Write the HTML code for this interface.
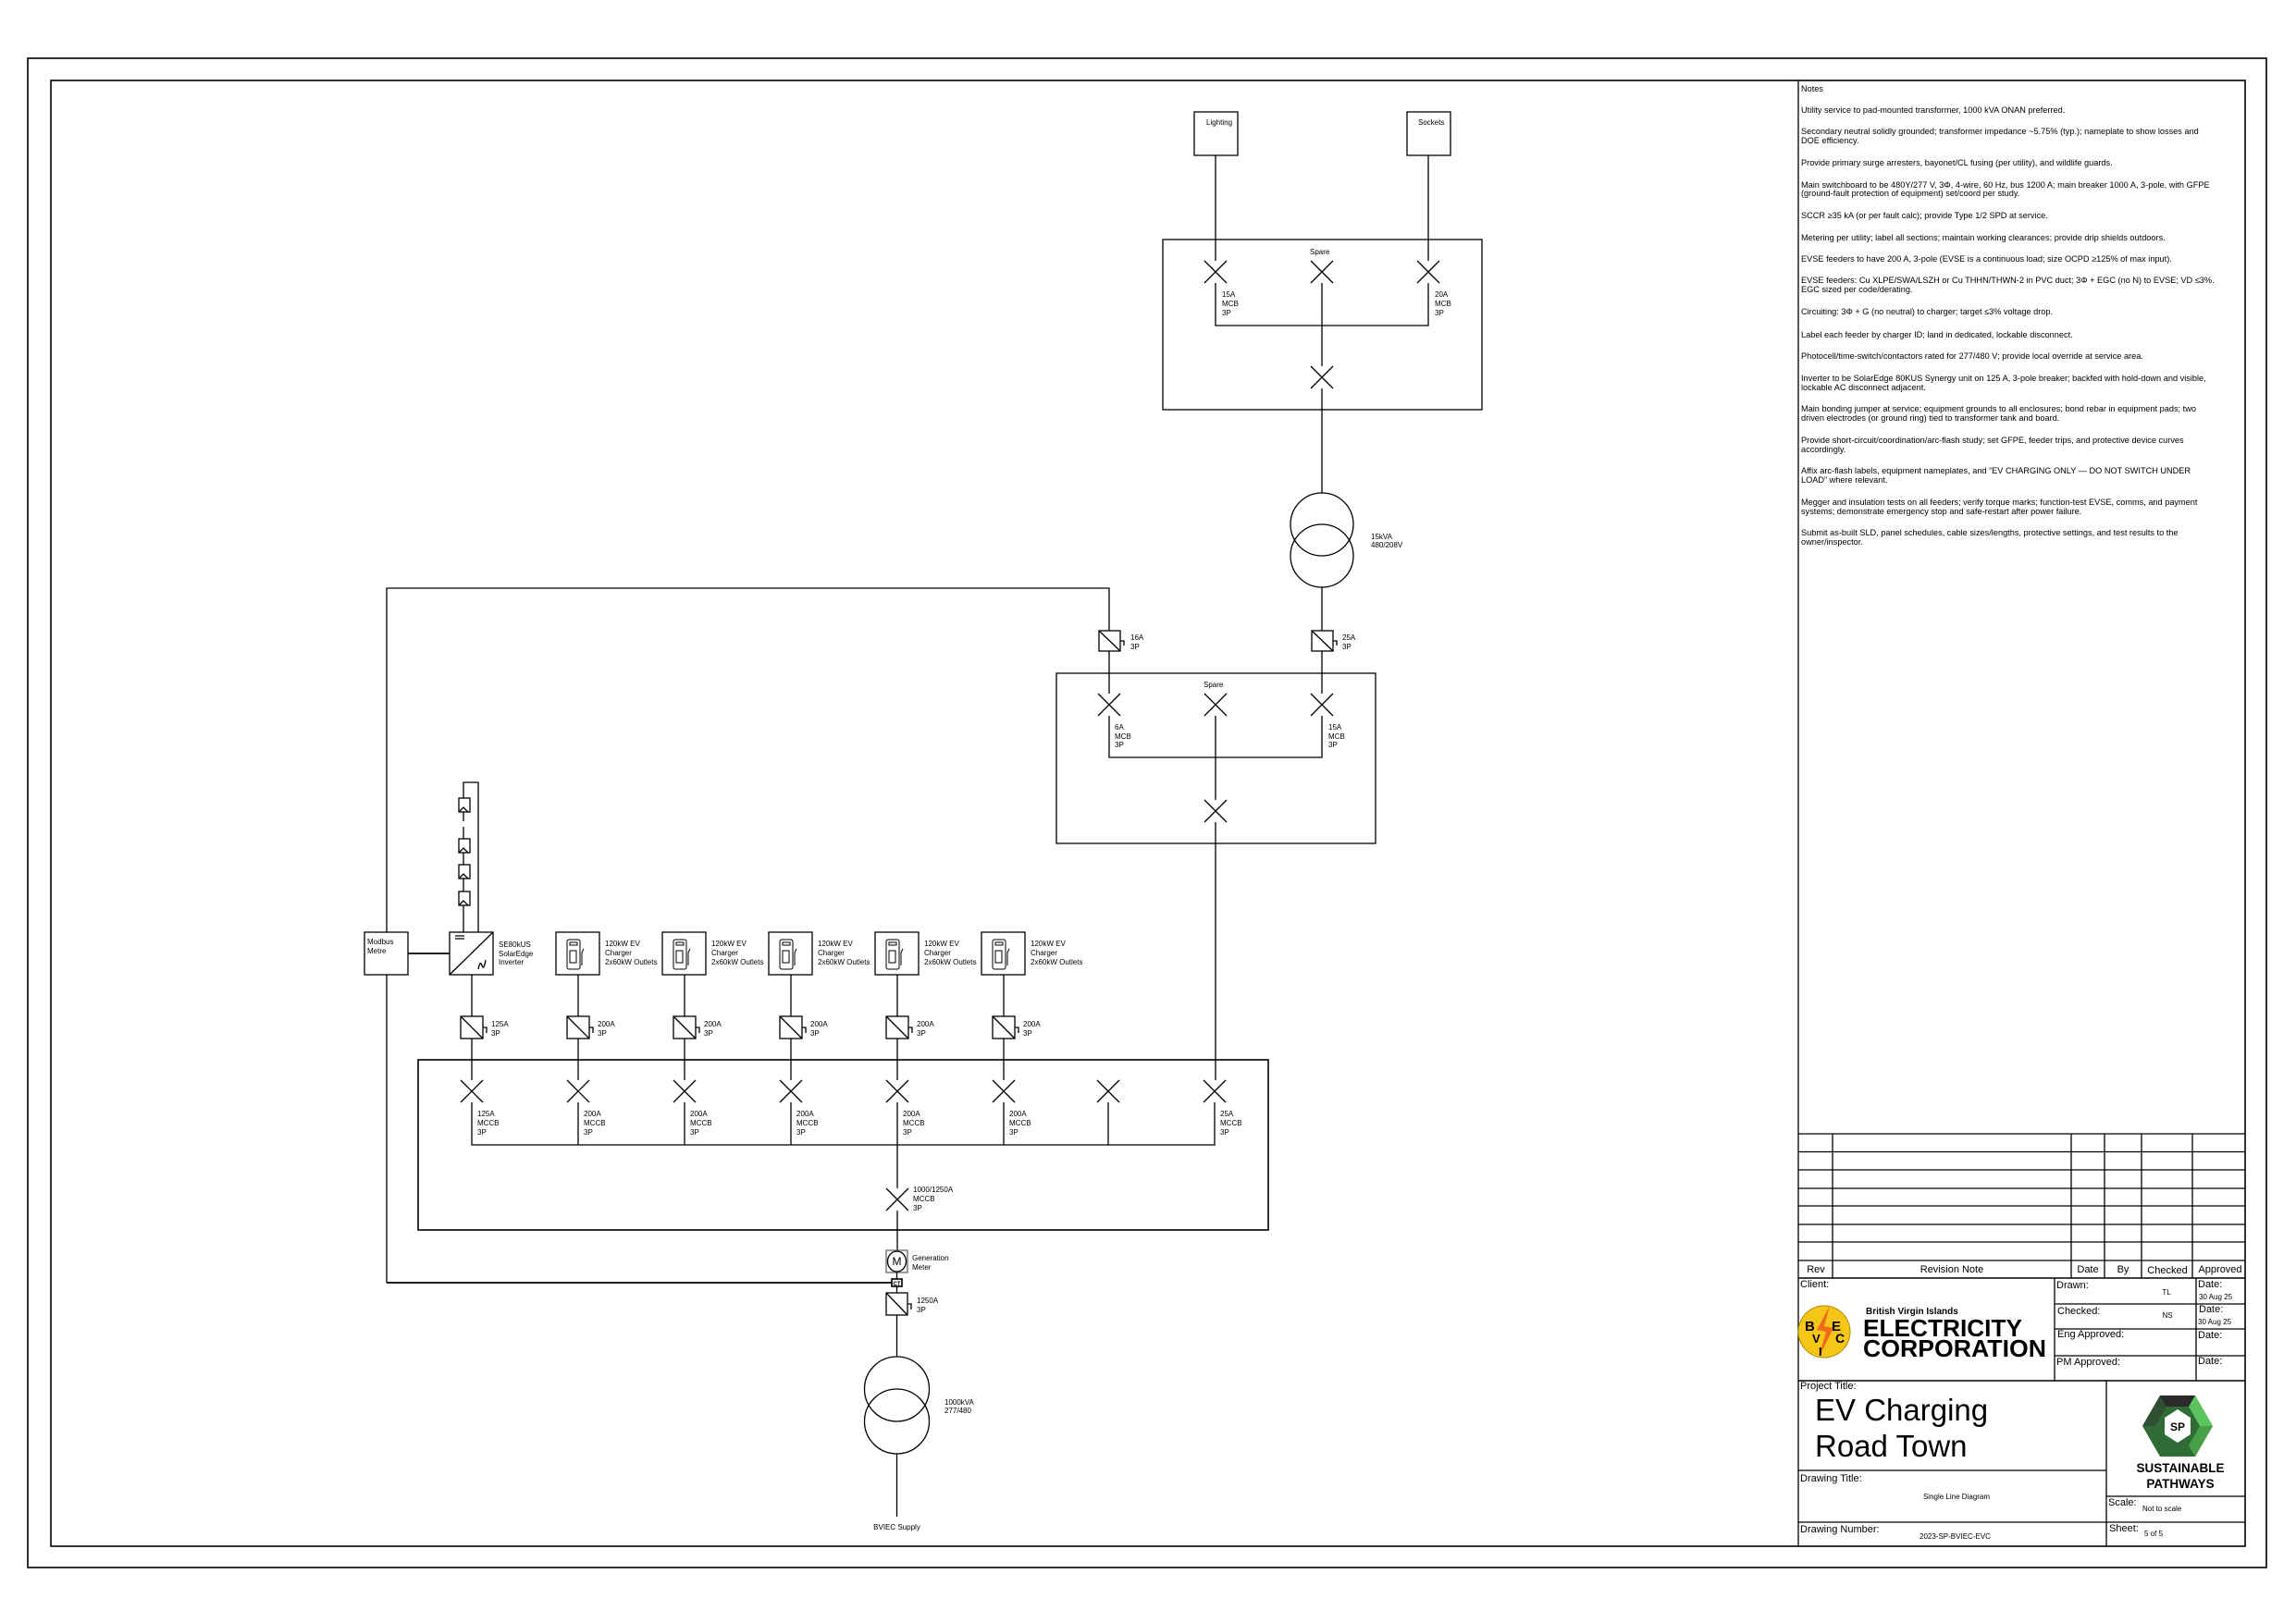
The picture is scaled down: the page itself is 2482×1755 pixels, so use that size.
<!DOCTYPE html>
<html><head><meta charset="utf-8"><style>
html,body{margin:0;padding:0;background:#fff;width:2482px;height:1755px;overflow:hidden}
svg{display:block}
text{font-family:"Liberation Sans",Arial,sans-serif;fill:#000}
.s{font-size:8px}
.n{font-size:9.2px}
.t{font-size:11px}
</style></head><body>
<svg width="2482" height="1755" viewBox="0 0 2482 1755" xmlns="http://www.w3.org/2000/svg">
<g fill="none" stroke="#000" stroke-width="1.3">
<rect x="30" y="63" width="2420" height="1632" stroke-width="1.6"/>
<rect x="55" y="87" width="2372" height="1585" stroke-width="1.6"/>
<line x1="1944" y1="87" x2="1944" y2="1672"/>

<line x1="1944" y1="1226" x2="2427" y2="1226"/>
<line x1="1944" y1="1245.5" x2="2427" y2="1245.5"/>
<line x1="1944" y1="1265" x2="2427" y2="1265"/>
<line x1="1944" y1="1285" x2="2427" y2="1285"/>
<line x1="1944" y1="1304" x2="2427" y2="1304"/>
<line x1="1944" y1="1324" x2="2427" y2="1324"/>
<line x1="1944" y1="1343" x2="2427" y2="1343"/>
<line x1="1944" y1="1363" x2="2427" y2="1363"/>
<line x1="1944" y1="1382" x2="2427" y2="1382" stroke-width="1.6"/>
<line x1="1981" y1="1226" x2="1981" y2="1382"/>
<line x1="2239" y1="1226" x2="2239" y2="1382"/>
<line x1="2275" y1="1226" x2="2275" y2="1382"/>
<line x1="2315" y1="1226" x2="2315" y2="1382"/>
<line x1="2370" y1="1226" x2="2370" y2="1382"/>
<line x1="2221" y1="1382" x2="2221" y2="1493"/>
<line x1="2374" y1="1382" x2="2374" y2="1493"/>
<line x1="2221" y1="1410" x2="2427" y2="1410"/>
<line x1="2221" y1="1437" x2="2427" y2="1437"/>
<line x1="2221" y1="1466" x2="2427" y2="1466"/>
<line x1="1944" y1="1493" x2="2427" y2="1493" stroke-width="1.6"/>
<line x1="2277" y1="1493" x2="2277" y2="1672"/>
<line x1="1944" y1="1590" x2="2277" y2="1590"/>
<line x1="1944" y1="1646" x2="2427" y2="1646"/>
<line x1="2277" y1="1618" x2="2427" y2="1618"/>

<rect x="1291" y="121" width="47" height="47"/>
<rect x="1521" y="121" width="47" height="47"/>
<rect x="1257" y="259" width="345" height="184"/>
<line x1="1314" y1="168" x2="1314" y2="282"/>
<line x1="1544" y1="168" x2="1544" y2="282"/>
<path d="M1302 282 l24 24 M1326 282 l-24 24"/>
<path d="M1417 282 l24 24 M1441 282 l-24 24"/>
<path d="M1532 282 l24 24 M1556 282 l-24 24"/>
<path d="M1314 306 V352 H1544 V306"/>
<line x1="1429" y1="306" x2="1429" y2="396"/>
<path d="M1417 396 l24 24 M1441 396 l-24 24"/>
<line x1="1429" y1="420" x2="1429" y2="533"/>
<circle cx="1429" cy="567" r="34"/>
<circle cx="1429" cy="601" r="34"/>
<line x1="1429" y1="635" x2="1429" y2="682"/>

<path d="M418 1008 V636 H1199 V682"/>
<rect x="1188" y="682" width="23" height="22"/><line x1="1188" y1="682" x2="1211" y2="704"/><path d="M1211 693 h4 v5"/>
<rect x="1418" y="682" width="23" height="22"/><line x1="1418" y1="682" x2="1441" y2="704"/><path d="M1441 693 h4 v5"/>
<line x1="1199" y1="704" x2="1199" y2="750"/>
<line x1="1429" y1="704" x2="1429" y2="750"/>
<rect x="1142" y="728" width="345" height="184"/>
<path d="M1187 750 l24 24 M1211 750 l-24 24"/>
<path d="M1302 750 l24 24 M1326 750 l-24 24"/>
<path d="M1417 750 l24 24 M1441 750 l-24 24"/>
<path d="M1199 774 V819 H1429 V774"/>
<line x1="1314" y1="774" x2="1314" y2="865"/>
<path d="M1302 865 l24 24 M1326 865 l-24 24"/>
<line x1="1314" y1="889" x2="1314" y2="1168"/>

<path d="M501 863 V846 H517 V1008"/>
<rect x="496" y="863" width="12" height="15"/><path d="M496 878 l5 -5 l5 5"/>
<line x1="501" y1="878" x2="501" y2="888"/><line x1="501" y1="894" x2="501" y2="907"/>
<rect x="496" y="907" width="12" height="15"/><path d="M496 922 l5 -5 l5 5"/>
<line x1="501" y1="922" x2="501" y2="935"/>
<rect x="496" y="935" width="12" height="15"/><path d="M496 950 l5 -5 l5 5"/>
<line x1="501" y1="950" x2="501" y2="964"/>
<rect x="496" y="964" width="12" height="15"/><path d="M496 979 l5 -5 l5 5"/>
<line x1="501" y1="979" x2="501" y2="1008"/>

<rect x="394" y="1008" width="47" height="46"/>
<line x1="441" y1="1031" x2="486" y2="1031" stroke-width="1.8"/>
<rect x="486" y="1008" width="47" height="46"/>
<line x1="486" y1="1054" x2="533" y2="1008"/>
<path d="M492 1012 h10 M492 1015 h10"/>
<path d="M517 1048 q2 -10 4 -4 q2 6 4 -6"/>
<line x1="418" y1="1054" x2="418" y2="1387"/>
<line x1="418" y1="1387" x2="964" y2="1387" stroke-width="1.8"/>

<line x1="510" y1="1054" x2="510" y2="1099"/>
<rect x="498" y="1099" width="24" height="24"/><line x1="498" y1="1099" x2="522" y2="1123"/><path d="M522 1111 h4 v6"/>
<line x1="510" y1="1123" x2="510" y2="1168"/>
<line x1="625" y1="1054" x2="625" y2="1099"/>
<rect x="613" y="1099" width="24" height="24"/><line x1="613" y1="1099" x2="637" y2="1123"/><path d="M637 1111 h4 v6"/>
<line x1="625" y1="1123" x2="625" y2="1168"/>
<line x1="740" y1="1054" x2="740" y2="1099"/>
<rect x="728" y="1099" width="24" height="24"/><line x1="728" y1="1099" x2="752" y2="1123"/><path d="M752 1111 h4 v6"/>
<line x1="740" y1="1123" x2="740" y2="1168"/>
<line x1="855" y1="1054" x2="855" y2="1099"/>
<rect x="843" y="1099" width="24" height="24"/><line x1="843" y1="1099" x2="867" y2="1123"/><path d="M867 1111 h4 v6"/>
<line x1="855" y1="1123" x2="855" y2="1168"/>
<line x1="970" y1="1054" x2="970" y2="1099"/>
<rect x="958" y="1099" width="24" height="24"/><line x1="958" y1="1099" x2="982" y2="1123"/><path d="M982 1111 h4 v6"/>
<line x1="970" y1="1123" x2="970" y2="1168"/>
<line x1="1085" y1="1054" x2="1085" y2="1099"/>
<rect x="1073" y="1099" width="24" height="24"/><line x1="1073" y1="1099" x2="1097" y2="1123"/><path d="M1097 1111 h4 v6"/>
<line x1="1085" y1="1123" x2="1085" y2="1168"/>

<rect x="601" y="1008" width="47" height="46"/>
<rect x="716" y="1008" width="47" height="46"/>
<rect x="831" y="1008" width="47" height="46"/>
<rect x="946" y="1008" width="47" height="46"/>
<rect x="1061" y="1008" width="47" height="46"/>
<g stroke-width="1">
<rect x="613" y="1016" width="14" height="32" rx="2"/><rect x="616" y="1019" width="8" height="3"/><rect x="616" y="1028" width="7" height="13"/><path d="M629 1044 v-14 l2 -4"/>
<rect x="728" y="1016" width="14" height="32" rx="2"/><rect x="731" y="1019" width="8" height="3"/><rect x="731" y="1028" width="7" height="13"/><path d="M744 1044 v-14 l2 -4"/>
<rect x="843" y="1016" width="14" height="32" rx="2"/><rect x="846" y="1019" width="8" height="3"/><rect x="846" y="1028" width="7" height="13"/><path d="M859 1044 v-14 l2 -4"/>
<rect x="958" y="1016" width="14" height="32" rx="2"/><rect x="961" y="1019" width="8" height="3"/><rect x="961" y="1028" width="7" height="13"/><path d="M974 1044 v-14 l2 -4"/>
<rect x="1073" y="1016" width="14" height="32" rx="2"/><rect x="1076" y="1019" width="8" height="3"/><rect x="1076" y="1028" width="7" height="13"/><path d="M1089 1044 v-14 l2 -4"/>
</g>

<rect x="452" y="1146" width="919" height="184" stroke-width="1.6"/>
<path d="M498 1168 l24 24 M522 1168 l-24 24"/>
<path d="M613 1168 l24 24 M637 1168 l-24 24"/>
<path d="M728 1168 l24 24 M752 1168 l-24 24"/>
<path d="M843 1168 l24 24 M867 1168 l-24 24"/>
<path d="M958 1168 l24 24 M982 1168 l-24 24"/>
<path d="M1073 1168 l24 24 M1097 1168 l-24 24"/>
<path d="M1186 1168 l24 24 M1210 1168 l-24 24"/>
<path d="M1301 1168 l24 24 M1325 1168 l-24 24"/>
<path d="M510 1192 V1238 H1313 V1192"/>
<path d="M625 1192 V1238 M740 1192 V1238 M855 1192 V1238 M970 1192 V1238 M1085 1192 V1238 M1198 1192 V1238"/>
<line x1="970" y1="1238" x2="970" y2="1285"/>
<path d="M958 1285 l24 24 M982 1285 l-24 24"/>
<line x1="970" y1="1309" x2="970" y2="1352"/>
<rect x="958" y="1352" width="23" height="24" stroke="#666"/>
<ellipse cx="969.5" cy="1364" rx="10" ry="11"/>
<line x1="969.5" y1="1376" x2="969.5" y2="1383"/>
<rect x="964" y="1383" width="11" height="8" stroke-width="1.6"/>
<line x1="969.5" y1="1391" x2="969.5" y2="1398"/>
<rect x="958" y="1398" width="23" height="24"/><line x1="958" y1="1398" x2="981" y2="1422"/><path d="M981 1410 h4 v6"/>
<line x1="969.5" y1="1422" x2="969.5" y2="1467"/>
<circle cx="969.5" cy="1502" r="35"/>
<circle cx="969.5" cy="1537" r="35"/>
<line x1="969.5" y1="1572" x2="969.5" y2="1640"/>
</g>

<text class="s" x="1304" y="135">Lighting</text>
<text class="s" x="1533" y="135">Sockets</text>
<text class="s" x="1416" y="275">Spare</text>
<text class="s" x="1321" y="321">15A</text><text class="s" x="1321" y="331">MCB</text><text class="s" x="1321" y="341">3P</text>
<text class="s" x="1551" y="321">20A</text><text class="s" x="1551" y="331">MCB</text><text class="s" x="1551" y="341">3P</text>
<text class="s" x="1482" y="583">15kVA</text><text class="s" x="1482" y="592">480/208V</text>
<text class="s" x="1222" y="692">16A</text><text class="s" x="1222" y="702">3P</text>
<text class="s" x="1451" y="692">25A</text><text class="s" x="1451" y="702">3P</text>
<text class="s" x="1301" y="743">Spare</text>
<text class="s" x="1205" y="789">6A</text><text class="s" x="1205" y="799">MCB</text><text class="s" x="1205" y="808">3P</text>
<text class="s" x="1436" y="789">15A</text><text class="s" x="1436" y="799">MCB</text><text class="s" x="1436" y="808">3P</text>
<text class="s" x="397" y="1021">Modbus</text><text class="s" x="397" y="1031">Metre</text>
<text class="s" x="539" y="1024">SE80kUS</text><text class="s" x="539" y="1034">SolarEdge</text><text class="s" x="539" y="1043">Inverter</text>
<g class="s">
<text x="654" y="1023">120kW EV</text><text x="654" y="1033">Charger</text><text x="654" y="1043">2x60kW Outlets</text>
<text x="769" y="1023">120kW EV</text><text x="769" y="1033">Charger</text><text x="769" y="1043">2x60kW Outlets</text>
<text x="884" y="1023">120kW EV</text><text x="884" y="1033">Charger</text><text x="884" y="1043">2x60kW Outlets</text>
<text x="999" y="1023">120kW EV</text><text x="999" y="1033">Charger</text><text x="999" y="1043">2x60kW Outlets</text>
<text x="1114" y="1023">120kW EV</text><text x="1114" y="1033">Charger</text><text x="1114" y="1043">2x60kW Outlets</text>
</g>
<g class="s">
<text x="531" y="1110">125A</text><text x="531" y="1120">3P</text>
<text x="646" y="1110">200A</text><text x="646" y="1120">3P</text>
<text x="761" y="1110">200A</text><text x="761" y="1120">3P</text>
<text x="876" y="1110">200A</text><text x="876" y="1120">3P</text>
<text x="991" y="1110">200A</text><text x="991" y="1120">3P</text>
<text x="1106" y="1110">200A</text><text x="1106" y="1120">3P</text>
<text x="516" y="1207">125A</text><text x="516" y="1217">MCCB</text><text x="516" y="1227">3P</text>
<text x="631" y="1207">200A</text><text x="631" y="1217">MCCB</text><text x="631" y="1227">3P</text>
<text x="746" y="1207">200A</text><text x="746" y="1217">MCCB</text><text x="746" y="1227">3P</text>
<text x="861" y="1207">200A</text><text x="861" y="1217">MCCB</text><text x="861" y="1227">3P</text>
<text x="976" y="1207">200A</text><text x="976" y="1217">MCCB</text><text x="976" y="1227">3P</text>
<text x="1091" y="1207">200A</text><text x="1091" y="1217">MCCB</text><text x="1091" y="1227">3P</text>
<text x="1319" y="1207">25A</text><text x="1319" y="1217">MCCB</text><text x="1319" y="1227">3P</text>
<text x="987" y="1289">1000/1250A</text><text x="987" y="1299">MCCB</text><text x="987" y="1309">3P</text>
<text x="986" y="1363">Generation</text><text x="986" y="1373">Meter</text>
<text x="991" y="1409">1250A</text><text x="991" y="1419">3P</text>
<text x="1021" y="1519">1000kVA</text><text x="1021" y="1528">277/480</text>
<text x="969.5" y="1654" text-anchor="middle">BVIEC Supply</text>
</g>
<text x="969.5" y="1368" font-size="12" text-anchor="middle">M</text>
<text x="969.5" y="1390" font-size="6" text-anchor="middle" font-weight="bold">CT</text>

<g class="n">
<text x="1947" y="99">Notes</text>
<text x="1947" y="122">Utility service to pad-mounted transformer, 1000 kVA ONAN preferred.</text>
<text x="1947" y="145">Secondary neutral solidly grounded; transformer impedance ~5.75% (typ.); nameplate to show losses and</text>
<text x="1947" y="155">DOE efficiency.</text>
<text x="1947" y="179">Provide primary surge arresters, bayonet/CL fusing (per utility), and wildlife guards.</text>
<text x="1947" y="203">Main switchboard to be 480Y/277 V, 3Φ, 4-wire, 60 Hz, bus 1200 A; main breaker 1000 A, 3-pole, with GFPE</text>
<text x="1947" y="212">(ground-fault protection of equipment) set/coord per study.</text>
<text x="1947" y="236">SCCR ≥35 kA (or per fault calc); provide Type 1/2 SPD at service.</text>
<text x="1947" y="260">Metering per utility; label all sections; maintain working clearances; provide drip shields outdoors.</text>
<text x="1947" y="283">EVSE feeders to have 200 A, 3-pole (EVSE is a continuous load; size OCPD ≥125% of max input).</text>
<text x="1947" y="306">EVSE feeders: Cu XLPE/SWA/LSZH or Cu THHN/THWN-2 in PVC duct; 3Φ + EGC (no N) to EVSE; VD ≤3%.</text>
<text x="1947" y="316">EGC sized per code/derating.</text>
<text x="1947" y="340">Circuiting: 3Φ + G (no neutral) to charger; target ≤3% voltage drop.</text>
<text x="1947" y="365">Label each feeder by charger ID; land in dedicated, lockable disconnect.</text>
<text x="1947" y="388">Photocell/time-switch/contactors rated for 277/480 V; provide local override at service area.</text>
<text x="1947" y="412">Inverter to be SolarEdge 80KUS Synergy unit on 125 A, 3-pole breaker; backfed with hold-down and visible,</text>
<text x="1947" y="422">lockable AC disconnect adjacent.</text>
<text x="1947" y="445">Main bonding jumper at service; equipment grounds to all enclosures; bond rebar in equipment pads; two</text>
<text x="1947" y="455">driven electrodes (or ground ring) tied to transformer tank and board.</text>
<text x="1947" y="479">Provide short-circuit/coordination/arc-flash study; set GFPE, feeder trips, and protective device curves</text>
<text x="1947" y="489">accordingly.</text>
<text x="1947" y="512">Affix arc-flash labels, equipment nameplates, and “EV CHARGING ONLY — DO NOT SWITCH UNDER</text>
<text x="1947" y="522">LOAD” where relevant.</text>
<text x="1947" y="546">Megger and insulation tests on all feeders; verify torque marks; function-test EVSE, comms, and payment</text>
<text x="1947" y="556">systems; demonstrate emergency stop and safe-restart after power failure.</text>
<text x="1947" y="579">Submit as-built SLD, panel schedules, cable sizes/lengths, protective settings, and test results to the</text>
<text x="1947" y="589">owner/inspector.</text>
</g>

<g class="t">
<text x="1963" y="1376" text-anchor="middle">Rev</text>
<text x="2110" y="1376" text-anchor="middle">Revision Note</text>
<text x="2257" y="1376" text-anchor="middle">Date</text>
<text x="2295" y="1376" text-anchor="middle">By</text>
<text x="2343" y="1377" text-anchor="middle">Checked</text>
<text x="2400" y="1376" text-anchor="middle">Approved</text>
<text x="1946" y="1392">Client:</text>
<text x="2223" y="1393">Drawn:</text>
<text x="2224" y="1421">Checked:</text>
<text x="2224" y="1446">Eng Approved:</text>
<text x="2223" y="1476">PM Approved:</text>
<text x="2376" y="1392">Date:</text>
<text x="2377" y="1419">Date:</text>
<text x="2376" y="1447">Date:</text>
<text x="2376" y="1475">Date:</text>
<text x="1946" y="1502">Project Title:</text>
<text x="1946" y="1602">Drawing Title:</text>
<text x="1946" y="1657">Drawing Number:</text>
<text x="2279" y="1628">Scale:</text>
<text x="2280" y="1656">Sheet:</text>
</g>
<g class="s" font-size="8.5">
<text x="2342" y="1400" text-anchor="middle">TL</text>
<text x="2343" y="1425" text-anchor="middle">NS</text>
<text x="2377" y="1405">30 Aug 25</text>
<text x="2376" y="1432">30 Aug 25</text>
<text x="2115" y="1621" text-anchor="middle">Single Line Diagram</text>
<text x="2075" y="1664">2023-SP-BVIEC-EVC</text>
<text x="2316" y="1634">Not to scale</text>
<text x="2318" y="1661">5 of 5</text>
</g>
<text x="1962" y="1536" font-size="33">EV Charging</text>
<text x="1962" y="1575" font-size="33">Road Town</text>

<circle cx="1972" cy="1440" r="28" fill="#f5c518" stroke="#b08a10" stroke-width="1"/>
<path d="M1978 1412 L1964 1438 L1974 1440 L1966 1468 L1982 1436 L1972 1434 Z" fill="#ef6a1a"/>
<text x="1951" y="1439" font-size="15" font-weight="bold" font-family="Liberation Serif">B</text>
<text x="1980" y="1439" font-size="15" font-weight="bold" font-family="Liberation Serif">E</text>
<text x="1959" y="1452" font-size="13" font-weight="bold" font-family="Liberation Serif">V</text>
<text x="1984" y="1452" font-size="14" font-weight="bold" font-family="Liberation Serif">C</text>
<text x="1966" y="1466" font-size="13" font-weight="bold" font-family="Liberation Serif">I</text>
<text x="2017" y="1421" font-size="10" font-weight="bold" fill="#222">British Virgin Islands</text>
<text x="2014" y="1445" font-size="26" font-weight="bold" textLength="172" lengthAdjust="spacingAndGlyphs">ELECTRICITY</text>
<text x="2014" y="1467" font-size="26" font-weight="bold" textLength="198" lengthAdjust="spacingAndGlyphs">CORPORATION</text>

<g>
<polygon points="2335,1509 2373,1509 2392,1542 2373,1575 2335,1575 2316,1542" fill="#2f6b35"/>
<polygon points="2335,1509 2373,1509 2366,1521 2342,1521" fill="#2a2a2a"/>
<polygon points="2373,1509 2392,1542 2378,1542 2366,1521" fill="#5cc45e"/>
<polygon points="2392,1542 2373,1575 2366,1563 2378,1542" fill="#46a04a"/>
<polygon points="2316,1542 2335,1509 2342,1521 2330,1542" fill="#2f4f32"/>
<polygon points="2354,1524 2368,1533 2368,1551 2354,1560 2340,1551 2340,1533" fill="#fff"/>
<text x="2354" y="1547" font-size="12" font-weight="bold" text-anchor="middle">SP</text>
</g>
<text x="2357" y="1592" font-size="13.5" font-weight="bold" text-anchor="middle">SUSTAINABLE</text>
<text x="2357" y="1609" font-size="13.5" font-weight="bold" text-anchor="middle">PATHWAYS</text>
</svg>
</body></html>
